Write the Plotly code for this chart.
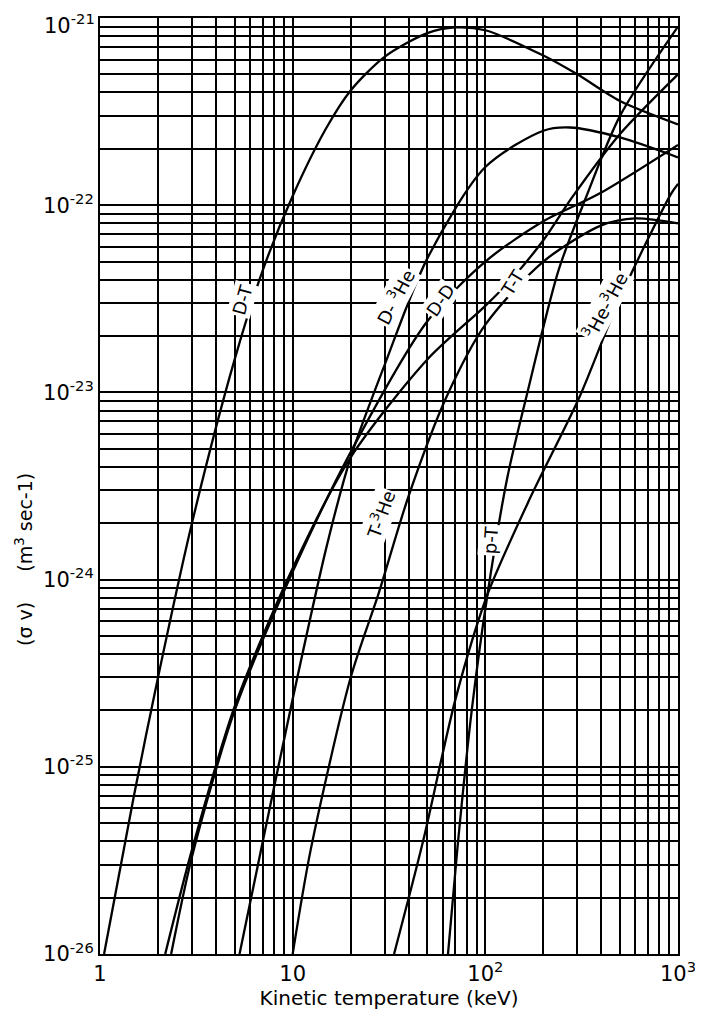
import plotly.graph_objects as go

# ---- data (keV, m^3/s) ----
dt_T = [1.05, 1.5, 2, 3, 5, 7, 10, 15, 20, 30, 50, 70, 100, 200, 300, 500, 1000]
dt_sv = [1.0e-26, 7.0e-26, 3.0e-25, 2.0e-24, 1.5e-23, 4.5e-23, 1.12e-22, 2.6e-22,
         4.1e-22, 6.2e-22, 8.3e-22, 8.9e-22, 8.6e-22, 6.3e-22, 5.0e-22, 3.6e-22, 2.7e-22]

dhe3_T = [5.3, 7, 10, 15, 20, 30, 50, 100, 200, 275, 500, 1000]
dhe3_sv = [1.0e-26, 4.0e-26, 2.3e-25, 1.5e-24, 4.5e-24, 1.4e-23, 5.2e-23, 1.6e-22,
           2.5e-22, 2.6e-22, 2.3e-22, 1.8e-22]

dd_T = [2.34, 3, 5, 10, 20, 50, 100, 200, 389, 1000]
dd_sv = [1.0e-26, 3.3e-26, 2.0e-25, 1.1e-24, 4.8e-24, 2.4e-23, 5.0e-23, 8.2e-23, 1.15e-22, 2.1e-22]

tt_T = [2.18, 3, 5, 10, 20, 50, 100, 136, 200, 282, 500, 1000]
tt_sv = [1.0e-26, 3.6e-26, 2.1e-25, 1.15e-24, 4.5e-24, 1.5e-23, 2.9e-23, 4.0e-23,
         6.5e-23, 1.1e-22, 2.4e-22, 5.0e-22]

the3_T = [10, 12.4, 20, 28, 40, 63, 100, 200, 400, 600, 1000]
the3_sv = [1.0e-26, 3.6e-26, 3.0e-25, 8.5e-25, 2.8e-24, 9.5e-24, 2.3e-23, 5.0e-23,
           7.8e-23, 8.5e-23, 8.0e-23]

pt_T = [64, 71.5, 85, 102, 130, 163, 240, 333, 500, 1000]
pt_sv = [1.0e-26, 3.6e-26, 2.0e-25, 8.0e-25, 3.5e-24, 9.4e-24, 4.5e-23, 1.1e-22, 3.0e-22, 9.0e-22]

he3he3_T = [33.6, 47.5, 70, 102, 170, 306, 500, 920, 1000]
he3he3_sv = [1.0e-26, 4.0e-26, 2.3e-25, 8.2e-25, 2.7e-24, 9.3e-24, 3.2e-23, 1.15e-22, 1.3e-22]

x_tickvals = [1, 10, 100, 1000]
x_ticktext = ["1", "10", "10<sup>2</sup>", "10<sup>3</sup>"]
y_tickvals = [1e-26, 1e-25, 1e-24, 1e-23, 1e-22]
y_ticktext = ["10<sup>-26</sup>", "10<sup>-25</sup>", "10<sup>-24</sup>",
              "10<sup>-23</sup>", "10<sup>-22</sup>"]
y_top_label = "10<sup>-21</sup>"

curves = [
    (dt_T, dt_sv), (dhe3_T, dhe3_sv), (dd_T, dd_sv), (tt_T, tt_sv),
    (the3_T, the3_sv), (pt_T, pt_sv), (he3he3_T, he3he3_sv),
]

FONT = "DejaVu Sans"
fig = go.Figure()
for xs, ys in curves:
    fig.add_trace(go.Scatter(x=xs, y=ys, mode="lines",
                             line=dict(color="black", width=2.3, shape="spline", smoothing=0.8),
                             showlegend=False, hoverinfo="skip"))

minor_x = [m * 10 ** d for d in range(0, 3) for m in range(2, 10)]
minor_y = [m * 10.0 ** d for d in range(-26, -21) for m in range(2, 10)]

fig.update_xaxes(type="log", range=[0, 3], tickvals=x_tickvals, ticktext=x_ticktext,
                 showgrid=True, gridcolor="black", gridwidth=1.5, automargin=False,
                 minor=dict(tickvals=minor_x, showgrid=True, gridcolor="black", gridwidth=1.5),
                 showline=True, linecolor="black", linewidth=2, mirror=True,
                 ticks="", ticklabeloverflow="allow",
                 tickfont=dict(family=FONT, size=21, color="black"),
                 title=dict(text="Kinetic temperature (keV)", font=dict(family=FONT, size=20, color="black"),
                            standoff=6))
fig.update_yaxes(type="log", range=[-26, -21], tickvals=y_tickvals, ticktext=y_ticktext,
                 showgrid=True, gridcolor="black", gridwidth=1.5, automargin=False,
                 minor=dict(tickvals=minor_y, showgrid=True, gridcolor="black", gridwidth=1.5),
                 showline=True, linecolor="black", linewidth=2, mirror=True,
                 ticks="", ticklabeloverflow="allow",
                 tickfont=dict(family=FONT, size=21, color="black"))

# top tick label drawn as an annotation, nudged down so it stays inside the page
fig.add_annotation(text=y_top_label, x=0, y=1, xref="paper", yref="paper",
                   xanchor="right", yanchor="middle", xshift=-3, yshift=-6,
                   showarrow=False, font=dict(family=FONT, size=21, color="black"))

# label positions given in page pixels of the reference; plot area spans x 100..678, y 18..954
labels = [
    ("D-T", 242, 300, -74),
    ("D- <sup>3</sup>He", 395, 297, -62),
    ("D-D", 440, 300, -55),
    ("T-T", 512, 283, -58),
    ("<sup>3</sup>He-<sup>3</sup>He", 605, 305, -62),
    ("T-<sup>3</sup>He", 380, 515, -70),
    ("p-T", 490, 540, -86),
]
for text, px, py, ang in labels:
    fig.add_annotation(text=text, x=(px - 100) / 578, y=(954 - py) / 936,
                       xref="paper", yref="paper", xanchor="center", yanchor="middle",
                       showarrow=False, textangle=ang, bgcolor="white",
                       font=dict(family=FONT, size=18, color="black"))

fig.add_annotation(text="(σ v)     (m<sup>3</sup> sec-1)", x=(24 - 100) / 578, y=(954 - 560) / 936,
                   xref="paper", yref="paper", xanchor="center", yanchor="middle",
                   showarrow=False, textangle=-90,
                   font=dict(family=FONT, size=19, color="black"))

# page body has an 8px default margin: figure is offset so the plot area lands at x 100..678, y 18..954
fig.update_layout(width=703, height=1016, margin=dict(l=92, r=33, t=10, b=70),
                  plot_bgcolor="white", paper_bgcolor="white")
fig.write_html("out.html")
